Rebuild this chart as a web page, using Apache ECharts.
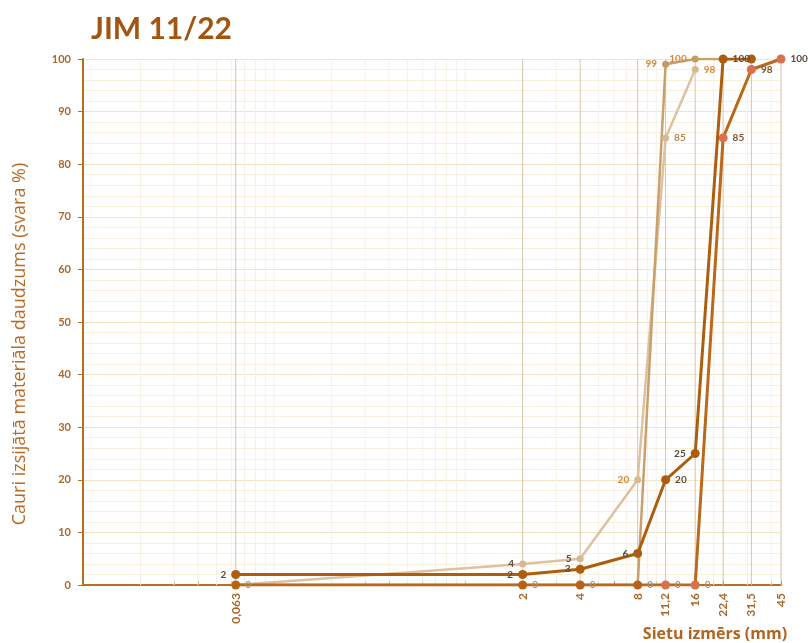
<!DOCTYPE html>
<html>
<head>
<meta charset="utf-8">
<script src="https://cdn.jsdelivr.net/npm/echarts@6/dist/echarts.min.js"></script>
<style>
  html, body { margin: 0; padding: 0; background: #fff; }
  #chart { width: 808px; height: 643px; }
</style>
</head>
<body>
<div id="chart"></div>
<script>
// sieve sizes (mm) and passing % for each curve
const sieves = [0.063, 2, 4, 8, 11.2, 16, 22.4, 31.5, 45]
const lightUpper = [0, 4, 5, 20, 85, 98, null, null, null]
const lightLower = [0, 0, 0, 0, 99, 100, 100, null, null]
const darkUpper = [2, 2, 3, 6, 20, 25, 100, 100, null]
const darkLower = [0, 0, 0, 0, 0, 0, 85, 98, 100]
const minorTicks = [0.02, 0.03, 0.04, 0.05, 0.06, 0.07, 0.08, 0.09, 0.1,
  0.2, 0.3, 0.4, 0.5, 0.6, 0.7, 0.8, 0.9, 1, 3, 5, 6, 7, 9, 10, 20, 30, 40]
const yMin = 0
const yMax = 100

function pairs (arr) {
  let out = []
  sieves.forEach(function (s, i) {
    if (arr[i] !== null) out.push([s, arr[i]])
  })
  return out
}

// vertical guide lines, broken between each x with an empty value
function verticals (xs) {
  let out = []
  xs.forEach(function (x) {
    out.push([x, yMin], [x, yMax], [x, '-'])
  })
  return out
}

function sieveText (v) {
  // pick the nearest sieve size, log axis may hand back rounded values
  let best = sieves[0]
  sieves.forEach(function (s) {
    if (Math.abs(Math.log(s) - Math.log(v)) < Math.abs(Math.log(best) - Math.log(v))) best = s
  })
  return String(best).replace('.', ',')
}

function labelled (data, positions, colors) {
  return data.map(function (d, i) {
    let item = { value: d }
    if (positions[i] === 'none') {
      item.label = { show: false }
    } else {
      item.label = { show: true, position: positions[i], color: colors ? colors[i] : undefined }
    }
    return item
  })
}

const orange = '#d4883a'
const darkTxt = '#5e4a36'
const greyTxt = '#a89078'
const labelBase = {
  show: true,
  fontSize: 10,
  fontWeight: 'bold',
  fontFamily: 'Lato',
  distance: 5,
  formatter: function (p) { return p.value[1] }
}

const chart = echarts.init(document.getElementById('chart'), null, { renderer: 'canvas' })

const option = {
  backgroundColor: '#fff',
  animation: false,
  title: {
    text: 'JIM 11/22',
    left: 86,
    top: 9,
    textStyle: { fontFamily: 'Lato', fontSize: 30, fontWeight: 'bold', color: '#a3540f' }
  },
  grid: { left: 83, right: 27, top: 59, bottom: 58 },
  xAxis: {
    type: 'log',
    logBase: 10,
    min: 0.01,
    max: 45,
    axisLine: { lineStyle: { color: '#b8701f', width: 2 } },
    axisTick: {
      show: true,
      inside: true,
      length: 4,
      customValues: minorTicks.concat(sieves),
      lineStyle: { color: '#b8701f', width: 1 }
    },
    axisLabel: {
      customValues: sieves,
      rotate: 90,
      margin: 8,
      fontFamily: 'Lato',
      fontSize: 12,
      fontWeight: 'bold',
      color: '#a8682c',
      formatter: sieveText
    },
    splitLine: { show: false }
  },
  yAxis: {
    type: 'value',
    min: yMin,
    max: yMax,
    interval: 10,
    axisLine: { show: true, lineStyle: { color: '#b8701f', width: 2 } },
    axisTick: { show: true, length: 5, lineStyle: { color: '#b8701f' } },
    axisLabel: {
      fontFamily: 'Lato',
      fontSize: 11,
      fontWeight: 'bold',
      color: '#a8682c',
      margin: 12
    },
    splitLine: { lineStyle: { color: '#f3e4c6', width: 1 } },
    minorTick: { show: false, splitNumber: 5 },
    minorSplitLine: { show: true, lineStyle: { color: '#f8efdd', width: 1 } }
  },
  graphic: [
    {
      type: 'text',
      x: 20,
      y: 344,
      rotation: Math.PI / 2,
      style: {
        text: 'Cauri izsijātā materiāla daudzums (svara %)',
        fontFamily: 'Open Sans',
        fontSize: 18,
        fill: '#b86a24',
        textAlign: 'center',
        textVerticalAlign: 'middle'
      }
    },
    {
      type: 'text',
      x: 715,
      y: 634,
      style: {
        text: 'Sietu izmērs (mm)',
        fontFamily: 'Open Sans',
        fontSize: 16,
        fontWeight: 'bold',
        fill: '#b0641e',
        textAlign: 'center',
        textVerticalAlign: 'middle'
      }
    }
  ],
  series: [
    {
      name: 'minor grid',
      type: 'line',
      silent: true,
      z: 0,
      symbol: 'none',
      connectNulls: false,
      lineStyle: { color: '#f7f0e6', width: 1 },
      data: verticals(minorTicks)
    },
    {
      name: 'sieve grid',
      type: 'line',
      silent: true,
      z: 1,
      symbol: 'none',
      connectNulls: false,
      lineStyle: { color: '#d8c4a8', width: 1 },
      data: verticals(sieves)
    },
    {
      name: 'light upper',
      type: 'line',
      z: 2,
      symbol: 'circle',
      symbolSize: 7,
      lineStyle: { color: '#dcc2a0', width: 2.5 },
      itemStyle: { color: '#d6b994' },
      label: Object.assign({}, labelBase, { color: orange }),
      data: labelled(pairs(lightUpper), ['none', 'left', 'left', 'left', 'right', 'right'],
        [orange, darkTxt, darkTxt, orange, '#b88a50', orange])
    },
    {
      name: 'light lower',
      type: 'line',
      z: 2,
      symbol: 'circle',
      symbolSize: 7,
      lineStyle: { color: '#c9a06c', width: 2.5 },
      itemStyle: { color: '#c59a64' },
      label: Object.assign({}, labelBase, { color: orange }),
      data: labelled(pairs(lightLower), ['none', 'none', 'none', 'none', 'left', 'left', 'none'])
    },
    {
      name: 'dark lower',
      type: 'line',
      z: 3,
      symbol: 'circle',
      symbolSize: 9,
      lineStyle: { color: '#b9691c', width: 3 },
      itemStyle: { color: '#b5631a' },
      label: Object.assign({}, labelBase, { color: greyTxt }),
      data: labelled(pairs(darkLower), ['right', 'right', 'right', 'right', 'right', 'right', 'right', 'right', 'right'],
        [greyTxt, greyTxt, greyTxt, greyTxt, greyTxt, greyTxt, '#7a5230', '#7a5230', darkTxt]).map(function (d, i) {
        if (i >= 4) d.itemStyle = { color: '#d9704e' }
        return d
      })
    },
    {
      name: 'dark upper',
      type: 'line',
      z: 4,
      symbol: 'circle',
      symbolSize: 9,
      lineStyle: { color: '#ad5d0e', width: 3 },
      itemStyle: { color: '#ad5d0e' },
      label: Object.assign({}, labelBase, { color: darkTxt }),
      data: labelled(pairs(darkUpper), ['left', 'left', 'left', 'left', 'right', 'left', 'right', 'none'])
    }
  ]
}

chart.setOption(option)
</script>
</body>
</html>
